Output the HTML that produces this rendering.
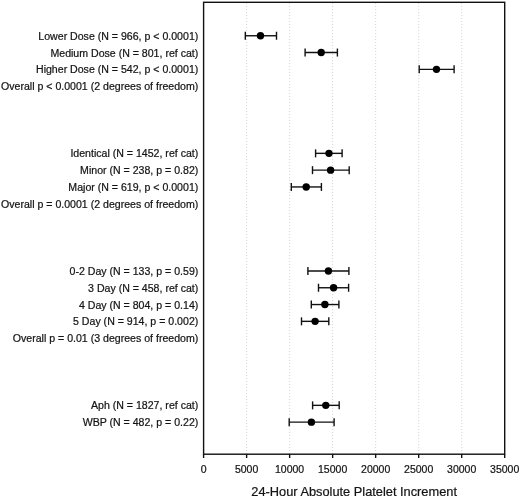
<!DOCTYPE html>
<html><head><meta charset="utf-8"><style>
html,body{margin:0;padding:0;background:#fff;}
body{width:520px;height:499px;overflow:hidden;}
svg{display:block;will-change:transform;}
text{font-family:"Liberation Sans",sans-serif;fill:#141414;stroke:#141414;stroke-width:0.22px;}
</style></head><body>
<svg width="520" height="499" viewBox="0 0 520 499">

<line x1="246.61" y1="2.30" x2="246.61" y2="454.20" stroke="#d2d2d2" stroke-width="1" stroke-dasharray="1 2" stroke-dashoffset="-0.8"/>
<line x1="289.63" y1="2.30" x2="289.63" y2="454.20" stroke="#d2d2d2" stroke-width="1" stroke-dasharray="1 2" stroke-dashoffset="-0.8"/>
<line x1="332.64" y1="2.30" x2="332.64" y2="454.20" stroke="#d2d2d2" stroke-width="1" stroke-dasharray="1 2" stroke-dashoffset="-0.8"/>
<line x1="375.66" y1="2.30" x2="375.66" y2="454.20" stroke="#d2d2d2" stroke-width="1" stroke-dasharray="1 2" stroke-dashoffset="-0.8"/>
<line x1="418.67" y1="2.30" x2="418.67" y2="454.20" stroke="#d2d2d2" stroke-width="1" stroke-dasharray="1 2" stroke-dashoffset="-0.8"/>
<line x1="461.69" y1="2.30" x2="461.69" y2="454.20" stroke="#d2d2d2" stroke-width="1" stroke-dasharray="1 2" stroke-dashoffset="-0.8"/>
<rect x="203.60" y="2.30" width="301.10" height="451.90" fill="none" stroke="#111" stroke-width="1.4"/>
<line x1="203.60" y1="454.20" x2="203.60" y2="458.00" stroke="#111" stroke-width="1.4"/>
<text x="203.60" y="472.6" font-size="10.5" text-anchor="middle">0</text>
<line x1="246.61" y1="454.20" x2="246.61" y2="458.00" stroke="#111" stroke-width="1.4"/>
<text x="246.61" y="472.6" font-size="10.5" text-anchor="middle">5000</text>
<line x1="289.63" y1="454.20" x2="289.63" y2="458.00" stroke="#111" stroke-width="1.4"/>
<text x="289.63" y="472.6" font-size="10.5" text-anchor="middle">10000</text>
<line x1="332.64" y1="454.20" x2="332.64" y2="458.00" stroke="#111" stroke-width="1.4"/>
<text x="332.64" y="472.6" font-size="10.5" text-anchor="middle">15000</text>
<line x1="375.66" y1="454.20" x2="375.66" y2="458.00" stroke="#111" stroke-width="1.4"/>
<text x="375.66" y="472.6" font-size="10.5" text-anchor="middle">20000</text>
<line x1="418.67" y1="454.20" x2="418.67" y2="458.00" stroke="#111" stroke-width="1.4"/>
<text x="418.67" y="472.6" font-size="10.5" text-anchor="middle">25000</text>
<line x1="461.69" y1="454.20" x2="461.69" y2="458.00" stroke="#111" stroke-width="1.4"/>
<text x="461.69" y="472.6" font-size="10.5" text-anchor="middle">30000</text>
<line x1="504.70" y1="454.20" x2="504.70" y2="458.00" stroke="#111" stroke-width="1.4"/>
<text x="504.70" y="472.6" font-size="10.5" text-anchor="middle">35000</text>
<text x="198.3" y="39.75" font-size="10.58" text-anchor="end">Lower Dose (N = 966, p &lt; 0.0001)</text>
<text x="198.3" y="56.55" font-size="10.58" text-anchor="end">Medium Dose (N = 801, ref cat)</text>
<text x="198.3" y="73.35" font-size="10.58" text-anchor="end">Higher Dose (N = 542, p &lt; 0.0001)</text>
<text x="198.3" y="90.15" font-size="10.58" text-anchor="end">Overall p &lt; 0.0001 (2 degrees of freedom)</text>
<text x="198.3" y="157.35" font-size="10.58" text-anchor="end">Identical (N = 1452, ref cat)</text>
<text x="198.3" y="174.15" font-size="10.58" text-anchor="end">Minor (N = 238, p = 0.82)</text>
<text x="198.3" y="190.95" font-size="10.58" text-anchor="end">Major (N = 619, p &lt; 0.0001)</text>
<text x="198.3" y="207.75" font-size="10.58" text-anchor="end">Overall p = 0.0001 (2 degrees of freedom)</text>
<text x="198.3" y="274.95" font-size="10.58" text-anchor="end">0-2 Day (N = 133, p = 0.59)</text>
<text x="198.3" y="291.75" font-size="10.58" text-anchor="end">3 Day (N = 458, ref cat)</text>
<text x="198.3" y="308.55" font-size="10.58" text-anchor="end">4 Day (N = 804, p = 0.14)</text>
<text x="198.3" y="325.35" font-size="10.58" text-anchor="end">5 Day (N = 914, p = 0.002)</text>
<text x="198.3" y="342.15" font-size="10.58" text-anchor="end">Overall p = 0.01 (3 degrees of freedom)</text>
<text x="198.3" y="409.35" font-size="10.58" text-anchor="end">Aph (N = 1827, ref cat)</text>
<text x="198.3" y="426.15" font-size="10.58" text-anchor="end">WBP (N = 482, p = 0.22)</text>
<g stroke="#111" stroke-width="1.4" fill="none"><line x1="245.3" y1="35.75" x2="276.5" y2="35.75"/><line x1="245.3" y1="31.75" x2="245.3" y2="39.75"/><line x1="276.5" y1="31.75" x2="276.5" y2="39.75"/></g>
<circle cx="260.5" cy="35.75" r="3.7" fill="#000"/>
<g stroke="#111" stroke-width="1.4" fill="none"><line x1="305.1" y1="52.55" x2="337.4" y2="52.55"/><line x1="305.1" y1="48.55" x2="305.1" y2="56.55"/><line x1="337.4" y1="48.55" x2="337.4" y2="56.55"/></g>
<circle cx="321.2" cy="52.55" r="3.7" fill="#000"/>
<g stroke="#111" stroke-width="1.4" fill="none"><line x1="419.2" y1="69.35" x2="454.1" y2="69.35"/><line x1="419.2" y1="65.35" x2="419.2" y2="73.35"/><line x1="454.1" y1="65.35" x2="454.1" y2="73.35"/></g>
<circle cx="436.5" cy="69.35" r="3.7" fill="#000"/>
<g stroke="#111" stroke-width="1.4" fill="none"><line x1="315.6" y1="153.35" x2="342.1" y2="153.35"/><line x1="315.6" y1="149.35" x2="315.6" y2="157.35"/><line x1="342.1" y1="149.35" x2="342.1" y2="157.35"/></g>
<circle cx="329.0" cy="153.35" r="3.7" fill="#000"/>
<g stroke="#111" stroke-width="1.4" fill="none"><line x1="312.5" y1="170.15" x2="349.2" y2="170.15"/><line x1="312.5" y1="166.15" x2="312.5" y2="174.15"/><line x1="349.2" y1="166.15" x2="349.2" y2="174.15"/></g>
<circle cx="330.6" cy="170.15" r="3.7" fill="#000"/>
<g stroke="#111" stroke-width="1.4" fill="none"><line x1="291.3" y1="186.95" x2="321.4" y2="186.95"/><line x1="291.3" y1="182.95" x2="291.3" y2="190.95"/><line x1="321.4" y1="182.95" x2="321.4" y2="190.95"/></g>
<circle cx="306.2" cy="186.95" r="3.7" fill="#000"/>
<g stroke="#111" stroke-width="1.4" fill="none"><line x1="307.9" y1="270.95" x2="348.9" y2="270.95"/><line x1="307.9" y1="266.95" x2="307.9" y2="274.95"/><line x1="348.9" y1="266.95" x2="348.9" y2="274.95"/></g>
<circle cx="328.4" cy="270.95" r="3.7" fill="#000"/>
<g stroke="#111" stroke-width="1.4" fill="none"><line x1="318.5" y1="287.75" x2="348.6" y2="287.75"/><line x1="318.5" y1="283.75" x2="318.5" y2="291.75"/><line x1="348.6" y1="283.75" x2="348.6" y2="291.75"/></g>
<circle cx="333.6" cy="287.75" r="3.7" fill="#000"/>
<g stroke="#111" stroke-width="1.4" fill="none"><line x1="311.3" y1="304.55" x2="338.9" y2="304.55"/><line x1="311.3" y1="300.55" x2="311.3" y2="308.55"/><line x1="338.9" y1="300.55" x2="338.9" y2="308.55"/></g>
<circle cx="324.9" cy="304.55" r="3.7" fill="#000"/>
<g stroke="#111" stroke-width="1.4" fill="none"><line x1="301.5" y1="321.35" x2="328.8" y2="321.35"/><line x1="301.5" y1="317.35" x2="301.5" y2="325.35"/><line x1="328.8" y1="317.35" x2="328.8" y2="325.35"/></g>
<circle cx="315.1" cy="321.35" r="3.7" fill="#000"/>
<g stroke="#111" stroke-width="1.4" fill="none"><line x1="312.6" y1="405.35" x2="339.2" y2="405.35"/><line x1="312.6" y1="401.35" x2="312.6" y2="409.35"/><line x1="339.2" y1="401.35" x2="339.2" y2="409.35"/></g>
<circle cx="325.8" cy="405.35" r="3.7" fill="#000"/>
<g stroke="#111" stroke-width="1.4" fill="none"><line x1="289.2" y1="422.15" x2="334.1" y2="422.15"/><line x1="289.2" y1="418.15" x2="289.2" y2="426.15"/><line x1="334.1" y1="418.15" x2="334.1" y2="426.15"/></g>
<circle cx="311.4" cy="422.15" r="3.7" fill="#000"/>
<text x="354.15" y="495.8" font-size="12.8" text-anchor="middle">24-Hour Absolute Platelet Increment</text>
</svg></body></html>
